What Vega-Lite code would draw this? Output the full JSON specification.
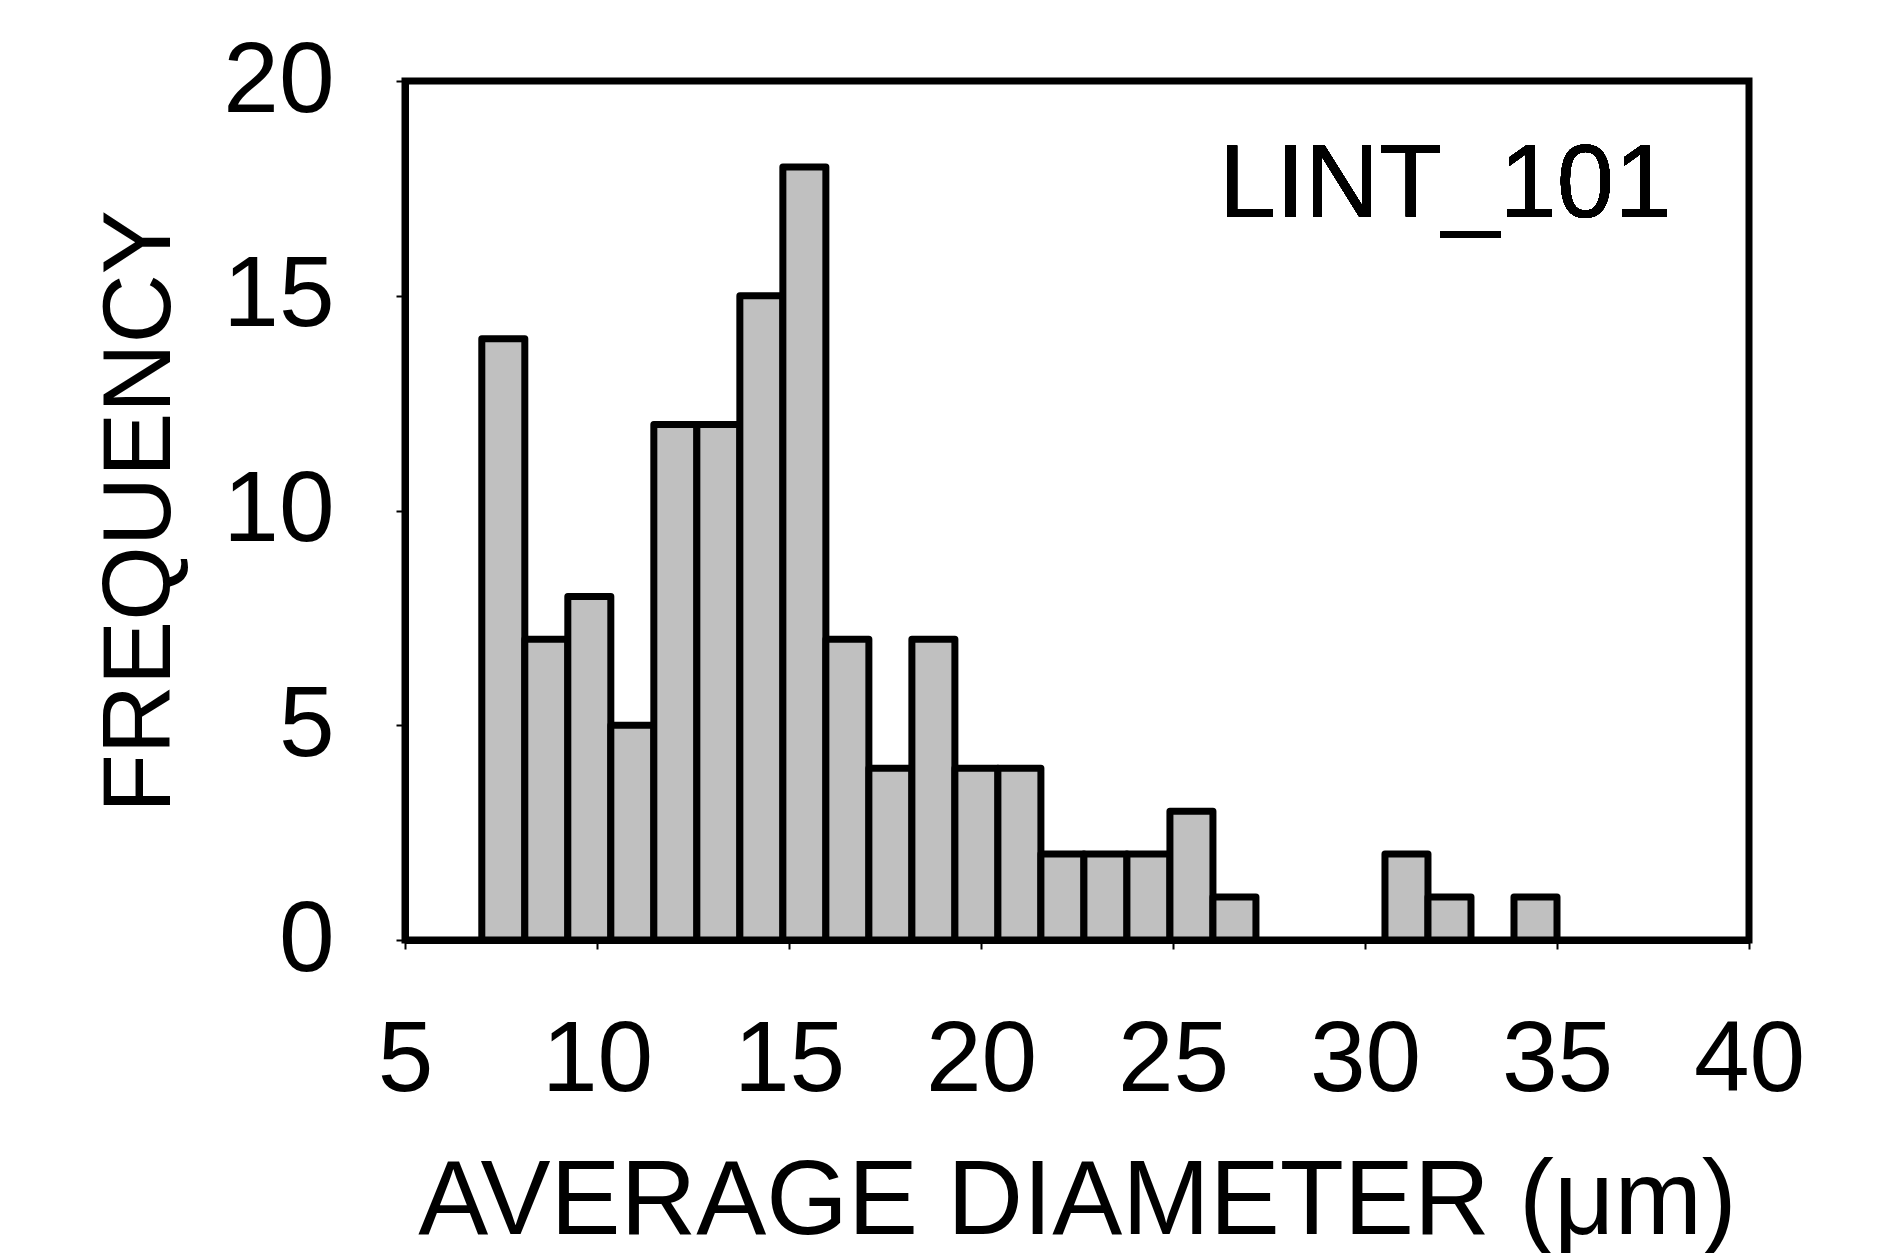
{
  "$schema": "https://vega.github.io/schema/vega-lite/v6.json",
  "autosize": "none",
  "width": 1344,
  "height": 859,
  "padding": {"left": 405, "top": 81, "right": 140, "bottom": 313},
  "background": "white",
  "config": {
    "font": "Liberation Sans",
    "view": {"stroke": "black", "strokeWidth": 7},
    "axis": {
      "grid": false,
      "domainColor": "black",
      "domainWidth": 7,
      "tickColor": "black",
      "tickWidth": 2,
      "tickSize": 9,
      "labelColor": "black",
      "labelFont": "Liberation Sans",
      "labelFontSize": 100,
      "labelFontWeight": "normal",
      "labelFlush": false,
      "labelOverlap": false,
      "titleColor": "black",
      "titleFont": "Liberation Sans",
      "titleFontWeight": "normal"
    }
  },
  "data": {
    "values": [
      {"x0": 7.00, "x1": 8.12, "count": 14},
      {"x0": 8.12, "x1": 9.24, "count": 7},
      {"x0": 9.24, "x1": 10.36, "count": 8},
      {"x0": 10.36, "x1": 11.48, "count": 5},
      {"x0": 11.48, "x1": 12.60, "count": 12},
      {"x0": 12.60, "x1": 13.72, "count": 12},
      {"x0": 13.72, "x1": 14.84, "count": 15},
      {"x0": 14.84, "x1": 15.96, "count": 18},
      {"x0": 15.96, "x1": 17.08, "count": 7},
      {"x0": 17.08, "x1": 18.20, "count": 4},
      {"x0": 18.20, "x1": 19.32, "count": 7},
      {"x0": 19.32, "x1": 20.44, "count": 4},
      {"x0": 20.44, "x1": 21.56, "count": 4},
      {"x0": 21.56, "x1": 22.68, "count": 2},
      {"x0": 22.68, "x1": 23.80, "count": 2},
      {"x0": 23.80, "x1": 24.92, "count": 2},
      {"x0": 24.92, "x1": 26.04, "count": 3},
      {"x0": 26.04, "x1": 27.16, "count": 1},
      {"x0": 30.52, "x1": 31.64, "count": 2},
      {"x0": 31.64, "x1": 32.76, "count": 1},
      {"x0": 33.88, "x1": 35.00, "count": 1}
    ]
  },
  "layer": [
    {
      "mark": {"type": "rect", "fill": "#c0c0c0", "stroke": "black", "strokeWidth": 7, "strokeJoin": "round"},
      "encoding": {
        "x": {
          "field": "x0",
          "type": "quantitative",
          "scale": {"domain": [5, 40], "nice": false, "zero": false},
          "axis": {
            "values": [5, 10, 15, 20, 25, 30, 35, 40],
            "labelPadding": 141,
            "labelBaseline": "alphabetic",
            "title": "AVERAGE DIAMETER (μm)",
            "titleFontSize": 105,
            "titleBaseline": "alphabetic",
            "titleY": 293,
            "titleX": 672,
            "titleAlign": "center"
          }
        },
        "x2": {"field": "x1"},
        "y": {
          "field": "count",
          "type": "quantitative",
          "scale": {"domain": [0, 20], "nice": false},
          "axis": {
            "values": [0, 5, 10, 15, 20],
            "labelPadding": 62,
            "labelBaseline": "middle",
            "title": "FREQUENCY",
            "titleFontSize": 96,
            "titleAngle": -90,
            "titleAlign": "center",
            "titleBaseline": "alphabetic",
            "titleX": -236,
            "titleY": 430
          }
        },
        "y2": {"datum": 0}
      }
    },
    {
      "mark": {"type": "text", "text": "LINT_101", "font": "Liberation Sans", "fontSize": 103, "align": "left", "baseline": "alphabetic", "color": "black"},
      "encoding": {
        "x": {"datum": 26.2, "type": "quantitative"},
        "y": {"datum": 16.83, "type": "quantitative"}
      }
    }
  ]
}
